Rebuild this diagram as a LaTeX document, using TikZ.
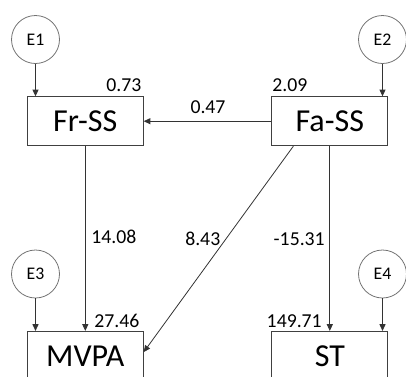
\documentclass[tikz,border=0pt]{standalone}
\usepackage{fontspec}
\setmainfont{Carlito}
\usetikzlibrary{arrows.meta}
\begin{document}
\begin{tikzpicture}[x=0.75pt,y=-0.75pt,
  var/.style={draw=black!75,line width=0.6pt,minimum width=87pt,minimum height=36.75pt,inner sep=0pt,font=\fontsize{24}{28}\selectfont},
  err/.style={circle,draw=black!55,line width=0.6pt,minimum size=36pt,inner sep=0pt,font=\fontsize{13.3}{16}\selectfont},
  lab/.style={inner sep=0pt,font=\fontsize{14.8}{17}\selectfont},
  conn/.style={draw=black!80,line width=0.6pt,-{Triangle[length=5pt,width=4.5pt]}}]
\useasboundingbox (0,0) rectangle (406,376);
\node[var] (Fr) at (85.3,121.2) {Fr-SS};
\node[var] (Fa) at (329.8,121.2) {Fa-SS};
\node[var] (MV) at (85.3,355.8) {MVPA};
\node[var] (ST) at (329.8,355.8) {ST};
\node[err] (E1) at (35.5,39.5) {E1};
\node[err] (E2) at (382.5,39.5) {E2};
\node[err] (E3) at (35.5,274) {E3};
\node[err] (E4) at (382.5,274) {E4};
\draw[conn] (E1.south) -- (E1.south |- Fr.north);
\draw[conn] (E2.south) -- (E2.south |- Fa.north);
\draw[conn] (E3.south) -- (E3.south |- MV.north);
\draw[conn] (E4.south) -- (E4.south |- ST.north);
\draw[conn] (Fa.west) -- (Fr.east);
\draw[conn] (Fr.south) -- (MV.north);
\draw[conn] (Fa.south) -- (ST.north);
\draw[conn] ([xshift=16.5pt]Fa.south west) -- ([yshift=2.8pt]MV.east);
\node[lab,anchor=south east] (l1) at ([xshift=-1.5pt,yshift=3pt]Fr.north east) {0.73};
\node[lab,anchor=south west] (l2) at ([xshift=0.5pt,yshift=3pt]Fa.north west) {2.09};
\node[lab] (l3) at (208,107.5) {0.47};
\node[lab,anchor=west] (l4) at (91,236.5) {14.08};
\node[lab,anchor=west] (l5) at (185,238.5) {8.43};
\node[lab,anchor=east] (l6) at (325,239.5) {-15.31};
\node[lab,anchor=west] (l7) at (94,321) {27.46};
\node[lab,anchor=east] (l8) at (322,321) {149.71};
\end{tikzpicture}
\end{document}
